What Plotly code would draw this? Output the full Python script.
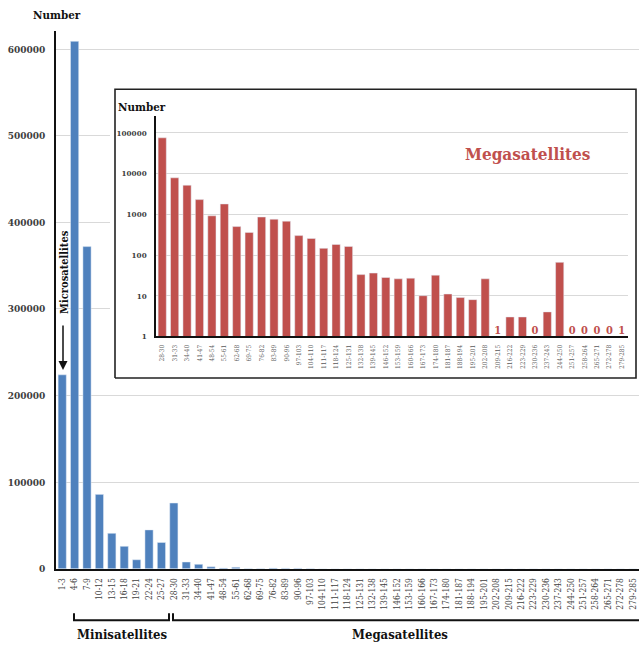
import plotly.graph_objects as go

# ---- data ----
mini_categories = ["1-3", "4-6", "7-9", "10-12", "13-15", "16-18", "19-21", "22-24", "25-27"]
mini_counts = [224000, 609000, 372000, 86000, 41000, 26000, 10500, 45000, 30500]

mega_categories = ["28-30", "31-33", "34-40", "41-47", "48-54", "55-61", "62-68", "69-75",
                   "76-82", "83-89", "90-96", "97-103", "104-110", "111-117", "118-124",
                   "125-131", "132-138", "139-145", "146-152", "153-159", "160-166",
                   "167-173", "174-180", "181-187", "188-194", "195-201", "202-208",
                   "209-215", "216-222", "223-229", "230-236", "237-243", "244-250",
                   "251-257", "258-264", "265-271", "272-278", "279-285"]
mega_counts = [76000, 7900, 5200, 2300, 920, 1800, 500, 360, 860, 760, 680, 300, 255, 146,
               182, 163, 33, 36, 28, 26, 27, 10, 32, 11, 9, 8, 26, 1, 3, 3, 0, 4, 66,
               0, 0, 0, 0, 1]

main_categories = mini_categories + mega_categories
main_counts = mini_counts + mega_counts

linear_ticks = [0, 100000, 200000, 300000, 400000, 500000, 600000]
log_ticks = [1, 10, 100, 1000, 10000, 100000]

# ---- styling ----
W, H = 639, 646
BLUE = "#4F81BD"
RED = "#C0504D"
GRID = "#D9D9D9"
SERIF = "DejaVu Serif Condensed, DejaVu Serif, serif"


def px(x):
    return x / W


def py(y):
    return 1 - y / H


fig = go.Figure()

# main distribution
fig.add_trace(go.Bar(x=main_categories, y=main_counts, marker_color=BLUE,
                     xaxis="x", yaxis="y", hoverinfo="x+y"))

# white framed panel behind the log-scale inset
box_dom_x = (110, 639)
box_dom_y = (85, 386)
bx0 = (115 - box_dom_x[0]) / (box_dom_x[1] - box_dom_x[0])
bx1 = (636 - box_dom_x[0]) / (box_dom_x[1] - box_dom_x[0])
by0 = (box_dom_y[1] - 381) / (box_dom_y[1] - box_dom_y[0])
by1 = (box_dom_y[1] - 90) / (box_dom_y[1] - box_dom_y[0])
fig.add_trace(go.Scatter(x=[bx0, bx1, bx1, bx0, bx0], y=[by0, by0, by1, by1, by0],
                         mode="lines", fill="toself", fillcolor="white",
                         line=dict(color="#222222", width=1.6),
                         xaxis="x2", yaxis="y2", hoverinfo="skip", showlegend=False))

# megasatellite counts on a log scale
fig.add_trace(go.Bar(x=mega_categories, y=mega_counts, marker_color=RED,
                     xaxis="x3", yaxis="y3", hoverinfo="x+y"))

# explicit labels for the 0 / 1 counts that have no visible bar
small_cats = [c for c, v in zip(mega_categories, mega_counts) if v <= 1]
small_vals = [v for v in mega_counts if v <= 1]
fig.add_trace(go.Scatter(x=small_cats, y=[1] * len(small_cats), mode="text",
                         text=[str(v) for v in small_vals], textposition="top center",
                         textfont=dict(family=SERIF, size=11, color=RED, weight="bold"),
                         xaxis="x3", yaxis="y3", hoverinfo="skip", cliponaxis=False))

fig.update_layout(
    width=W, height=H, autosize=False,
    margin=dict(l=0, r=0, t=0, b=0),
    paper_bgcolor="white", plot_bgcolor="white",
    showlegend=False, bargap=0.34,
    font=dict(family=SERIF, color="#404040"),
    xaxis=dict(domain=[px(56), 1], type="category", range=[-0.5, 46.5],
               showline=True, linecolor="#111111", linewidth=1.5, showgrid=False,
               tickangle=-90, ticks="", ticklabelstandoff=4,
               tickfont=dict(family=SERIF, size=8.5, color="#404040"), anchor="y"),
    yaxis=dict(domain=[py(573.3), py(31.7)], range=[0, 620400],
               tickvals=linear_ticks, tickformat="d",
               showline=True, linecolor="#111111", linewidth=1.5,
               showgrid=True, gridcolor=GRID, gridwidth=1, zeroline=False,
               ticks="", ticklabelstandoff=7,
               tickfont=dict(family=SERIF, size=10, color="#404040", weight="bold"),
               anchor="x"),
    xaxis2=dict(domain=[px(box_dom_x[0]), px(box_dom_x[1])], range=[0, 1],
                visible=False, anchor="y2"),
    yaxis2=dict(domain=[py(box_dom_y[1]), py(box_dom_y[0])], range=[0, 1],
                visible=False, anchor="x2"),
    xaxis3=dict(domain=[px(156), px(628)], type="category", range=[-0.5, 37.5],
                showline=True, linecolor="#111111", linewidth=1.5, showgrid=False,
                tickangle=-90, ticks="", ticklabelstandoff=4,
                tickfont=dict(family=SERIF, size=6.5, color="#595959"), anchor="y3"),
    yaxis3=dict(domain=[py(339), py(117)], type="log", range=[0, 5.415],
                tickvals=log_ticks, ticktext=[str(v) for v in log_ticks],
                showline=True, linecolor="#111111", linewidth=1.5,
                showgrid=True, gridcolor=GRID, gridwidth=1, zeroline=False,
                ticks="", ticklabelstandoff=6,
                tickfont=dict(family=SERIF, size=8, color="#404040", weight="bold"),
                anchor="x3"),
)

bold = dict(family=SERIF, weight="bold")


def label(text, x, y, size, color="#111111", angle=0):
    fig.add_annotation(text=text, x=px(x), y=py(y), xref="paper", yref="paper",
                       xanchor="center", yanchor="middle", textangle=angle,
                       showarrow=False, font=dict(**bold, size=size, color=color))


label("Number", 57, 15, 11.5)
label("Number", 142, 108, 11.5)
label("Megasatellites", 527, 155, 17, color=RED)
label("Microsatellites", 65, 274, 11, angle=-90)
label("Minisatellites", 122, 639, 13)
label("Megasatellites", 400, 639, 13)

# arrow pointing at the 1-3 class
fig.add_annotation(text="", x=px(63), y=py(373), xref="paper", yref="paper",
                   showarrow=True, ax=0, ay=-46, arrowhead=2, arrowsize=1.2,
                   arrowwidth=1.5, arrowcolor="#111111", standoff=0)


# brackets grouping the size classes under the axis labels
def bracket(x0, x1, top=618, bottom=625, right_end=True):
    path = f"M {px(x0)},{py(top)} L {px(x0)},{py(bottom)} L {px(x1)},{py(bottom)}"
    if right_end:
        path += f" L {px(x1)},{py(top)}"
    fig.add_shape(type="path", path=path, xref="paper", yref="paper",
                  line=dict(color="#111111", width=2))


bracket(74, 169)
bracket(173, 650, right_end=False)

fig.write_html("out.html")
